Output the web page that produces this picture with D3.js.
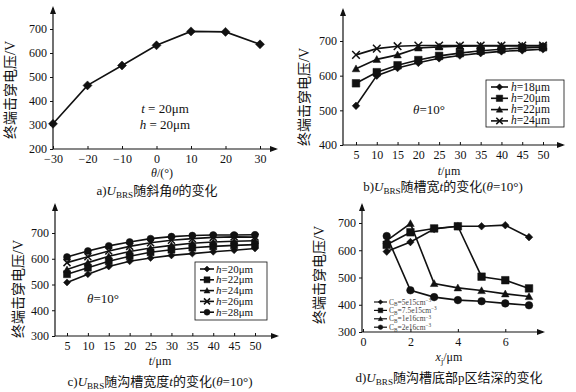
<!DOCTYPE html>
<html>
<head>
<meta charset="utf-8">
<script src="https://cdn.jsdelivr.net/npm/d3@7"></script>
<style>
  body { margin: 0; background: #fff; }
  svg text { font-family: "Liberation Serif", "Noto Sans CJK SC", serif; fill: #111; }
  .tick text { font-size: 12px; }
</style>
</head>
<body>
<div id="chart"></div>
<script>
// ---- data ----
var thetaA = [-30, -20, -10, 0, 10, 20, 30];
var ubrsA = [305, 465, 548, 632, 690, 688, 636];

var tB = [5, 10, 15, 20, 25, 30, 35, 40, 45, 50];
var hB = ["18", "20", "22", "24"];
var ubrsB = [
    [513, 600, 622, 637, 650, 658, 665, 670, 673, 676],
    [578, 610, 630, 645, 657, 665, 672, 676, 680, 682],
    [620, 647, 660, 680, 683, 685, 686, 686, 686, 686],
    [660, 678, 685, 687, 687, 687, 687, 687, 687, 687]
];
var markersB = ["diamond", "square", "triangle", "x"];

var tC = [5, 10, 15, 20, 25, 30, 35, 40, 45, 50];
var hC = ["20", "22", "24", "26", "28"];
var ubrsC = [
    [508, 540, 570, 590, 603, 613, 620, 627, 633, 640],
    [540, 565, 590, 610, 625, 635, 643, 648, 652, 655],
    [558, 585, 610, 628, 642, 652, 660, 665, 668, 670],
    [585, 608, 630, 648, 662, 672, 678, 683, 685, 684],
    [607, 630, 650, 665, 678, 686, 690, 692, 692, 693]
];
var markersC = ["diamond", "square", "triangle", "x", "circle"];

var xjD = [1, 2, 3, 4, 5, 6, 7];
var cbD = ["5e15", "7.5e15", "1e16", "2e16"];
var ubrsD = [
    [595, 630, 678, 688, 688, 692, 648],
    [620, 666, 680, 688, 503, 490, 460],
    [635, 698, 478, 462, 452, 440, 430],
    [652, 453, 428, 417, 413, 405, 398]
];
var markersD = ["diamond", "square", "triangle", "circle"];

var ticksA = { x: [-30, -20, -10, 0, 10, 20, 30], y: [200, 300, 400, 500, 600, 700] };
var ticksB = { x: tB, y: [400, 500, 600, 700] };
var ticksC = { x: tC, y: [300, 400, 500, 600, 700] };
var ticksD = { x: [0, 2, 4, 6], y: [300, 400, 500, 600, 700] };

var svg = d3.select("#chart").append("svg")
    .attr("width", 576)
    .attr("height", 392);

// marker shapes, r = half size
function markerPath(type, r) {
    if (type === "diamond") return "M0," + (-r) + "L" + r + ",0L0," + r + "L" + (-r) + ",0Z";
    if (type === "square") return "M" + (-r) + "," + (-r) + "h" + (2 * r) + "v" + (2 * r) + "h" + (-2 * r) + "Z";
    if (type === "triangle") return "M0," + (-r) + "L" + r + "," + (r * 0.8) + "L" + (-r) + "," + (r * 0.8) + "Z";
    if (type === "x") return "M" + (-r) + "," + (-r) + "L" + r + "," + r + "M" + (-r) + "," + r + "L" + r + "," + (-r);
    // circle
    return d3.symbol(d3.symbolCircle, Math.PI * r * r)();
}

function drawMarker(g, type, x, y, r) {
    g.append("path")
        .attr("transform", "translate(" + x + "," + y + ")")
        .attr("d", markerPath(type, r))
        .attr("fill", type === "x" ? "none" : "#111")
        .attr("stroke", "#111")
        .attr("stroke-width", type === "x" ? 1.5 : 0.5);
}

// text made of parts: [string, style]  style: i = italic, sub, sup
function richText(g, x, y, parts, size, anchor) {
    var t = g.append("text")
        .attr("x", x).attr("y", y)
        .attr("font-size", size)
        .attr("text-anchor", anchor || "middle");
    var shift = 0;
    parts.forEach(function(p) {
        var s = t.append("tspan").text(p[0]);
        var dy = 0;
        if (p[1] === "sub") { dy = size * 0.25; s.attr("font-size", size * 0.7); }
        if (p[1] === "sup") { dy = -size * 0.35; s.attr("font-size", size * 0.7); }
        if (p[1] === "i") s.attr("font-style", "italic");
        s.attr("dy", dy - shift);
        shift = dy;
    });
    return t;
}

function arrowHead(g, x, y, dir) {
    var p = dir === "right"
        ? [[x, y], [x - 8, y - 3], [x - 8, y + 3]]
        : [[x, y], [x - 3, y + 8], [x + 3, y + 8]];
    g.append("path").attr("d", "M" + p.join("L") + "Z").attr("fill", "#111");
}

// one panel
function drawPanel(cfg) {
    var g = svg.append("g");
    var x = d3.scaleLinear().domain(cfg.xDomain).range(cfg.xRange);
    var y = d3.scaleLinear().domain(cfg.yDomain).range(cfg.yRange);
    var x0 = cfg.axisX, y0 = cfg.yRange[0];

    // axes lines with arrows
    g.append("line").attr("x1", x0).attr("x2", cfg.xEnd).attr("y1", y0).attr("y2", y0)
        .attr("stroke", "#111").attr("stroke-width", 1.2);
    g.append("line").attr("x1", x0).attr("x2", x0).attr("y1", y0).attr("y2", cfg.yEnd)
        .attr("stroke", "#111").attr("stroke-width", 1.2);
    arrowHead(g, cfg.xEnd + 2, y0, "right");
    arrowHead(g, x0, cfg.yEnd - 2, "up");

    var xa = g.append("g").attr("transform", "translate(0," + y0 + ")")
        .call(d3.axisBottom(x).tickValues(cfg.ticks.x).tickSize(-3).tickPadding(5).tickFormat(function(d) { return d < 0 ? "\u2212" + (-d) : d; }));
    var ya = g.append("g").attr("transform", "translate(" + x0 + ",0)")
        .call(d3.axisLeft(y).tickValues(cfg.ticks.y).tickSize(3).tickPadding(3));
    [xa, ya].forEach(function(a) {
        a.select(".domain").remove();
        a.selectAll(".tick line").attr("stroke", "#111");
        a.selectAll(".tick text").attr("font-family", "Liberation Serif").attr("fill", "#111");
    });

    // series
    var line = d3.line().x(function(d) { return x(d[0]); }).y(function(d) { return y(d[1]); });
    cfg.series.forEach(function(vals, i) {
        var pts = cfg.xs.map(function(v, j) { return [v, vals[j]]; });
        g.append("path").attr("d", line(pts))
            .attr("fill", "none").attr("stroke", "#111").attr("stroke-width", 1.6);
        pts.forEach(function(p) { drawMarker(g, cfg.markers[i], x(p[0]), y(p[1]), cfg.r); });
    });

    // y title
    g.append("text")
        .attr("transform", "translate(" + cfg.yTitle[0] + "," + cfg.yTitle[1] + ")rotate(-90)")
        .attr("text-anchor", "middle")
        .attr("font-size", 14)
        .text("终端击穿电压/V");

    richText(g, cfg.xTitle[0], cfg.xTitle[1], cfg.xTitleParts, 12);
    richText(g, cfg.caption[0], cfg.caption[1], cfg.captionParts, 13);
    return g;
}

// a) vs theta
var ga = drawPanel({
    xDomain: [-30, 30], xRange: [53, 260], yDomain: [200, 700], yRange: [149, 29],
    axisX: 53, xEnd: 276, yEnd: 8, ticks: ticksA,
    xs: thetaA, series: [ubrsA], markers: ["diamond"], r: 4.5,
    yTitle: [15, 90], xTitle: [162, 177], xTitleParts: [["θ", "i"], ["/(°)"]],
    caption: [157, 195], captionParts: [["a)"], ["U", "i"], ["BRS", "sub"], ["随斜角"], ["θ", "i"], ["的变化"]]
});
richText(ga, 165, 113, [["t", "i"], [" = 20μm"]], 13);
richText(ga, 165, 129, [["h", "i"], [" = 20μm"]], 13);

// b) vs t
var gb = drawPanel({
    xDomain: [5, 50], xRange: [356, 543], yDomain: [400, 700], yRange: [145, 41],
    axisX: 343, xEnd: 563, yEnd: 10, ticks: ticksB,
    xs: tB, series: ubrsB, markers: markersB, r: 3.8,
    yTitle: [309, 97], xTitle: [449, 175], xTitleParts: [["t", "i"], ["/μm"]],
    caption: [443, 191], captionParts: [["b)"], ["U", "i"], ["BRS", "sub"], ["随槽宽"], ["t", "i"], ["的变化("], ["θ", "i"], ["=10°)"]]
});
richText(gb, 429, 114, [["θ", "i"], ["=10°"]], 13);
gb.append("rect").attr("x", 486).attr("y", 80).attr("width", 78).attr("height", 47)
    .attr("fill", "#fff").attr("stroke", "#111").attr("stroke-width", 0.8);
hB.forEach(function(h, i) {
    var yy = 87 + i * 11.3;
    gb.append("line").attr("x1", 491).attr("x2", 508).attr("y1", yy).attr("y2", yy).attr("stroke", "#111").attr("stroke-width", 1.6);
    drawMarker(gb, markersB[i], 499.5, yy, 3.2);
    richText(gb, 511, yy + 3.5, [["h", "i"], ["=" + h + "μm"]], 11.5, "start");
});

// c) vs t, 5 depths
var gc = drawPanel({
    xDomain: [5, 50], xRange: [67, 255], yDomain: [300, 700], yRange: [336, 233],
    axisX: 55, xEnd: 277, yEnd: 205, ticks: ticksC,
    xs: tC, series: ubrsC, markers: markersC, r: 3.5,
    yTitle: [23, 289], xTitle: [160, 365], xTitleParts: [["t", "i"], ["/μm"]],
    caption: [160, 386], captionParts: [["c)"], ["U", "i"], ["BRS", "sub"], ["随沟槽宽度"], ["t", "i"], ["的变化("], ["θ", "i"], ["=10°)"]]
});
richText(gc, 103, 303, [["θ", "i"], ["=10°"]], 13);
gc.append("rect").attr("x", 195).attr("y", 262).attr("width", 72).attr("height", 58)
    .attr("fill", "#fff").attr("stroke", "#111").attr("stroke-width", 0.8);
hC.forEach(function(h, i) {
    var yy = 269 + i * 10.8;
    gc.append("line").attr("x1", 200).attr("x2", 214).attr("y1", yy).attr("y2", yy).attr("stroke", "#111").attr("stroke-width", 1.6);
    drawMarker(gc, markersC[i], 207, yy, 3);
    richText(gc, 216, yy + 3.5, [["h", "i"], ["=" + h + "μm"]], 11, "start");
});

// d) vs junction depth
var gd = drawPanel({
    xDomain: [0, 7], xRange: [363, 529], yDomain: [300, 700], yRange: [332, 223],
    axisX: 362, xEnd: 543, yEnd: 205, ticks: ticksD,
    xs: xjD, series: ubrsD, markers: markersD, r: 3.8,
    yTitle: [324, 275], xTitle: [449, 361], xTitleParts: [["x", "i"], ["j", "sub"], ["/μm"]],
    caption: [449, 382], captionParts: [["d)"], ["U", "i"], ["BRS", "sub"], ["随沟槽底部p区结深的变化"]]
});
cbD.forEach(function(c, i) {
    var yy = 302 + i * 8.4;
    gd.append("line").attr("x1", 374).attr("x2", 387).attr("y1", yy).attr("y2", yy).attr("stroke", "#111").attr("stroke-width", 1.2);
    drawMarker(gd, markersD[i], 380.5, yy, 2.3);
    richText(gd, 389, yy + 2.5, [["C"], ["B", "sub"], ["=" + c + "cm"], ["−3", "sup"]], 7.5, "start")
        .selectAll("tspan").attr("fill", "#444");
});
</script>
</body>
</html>
